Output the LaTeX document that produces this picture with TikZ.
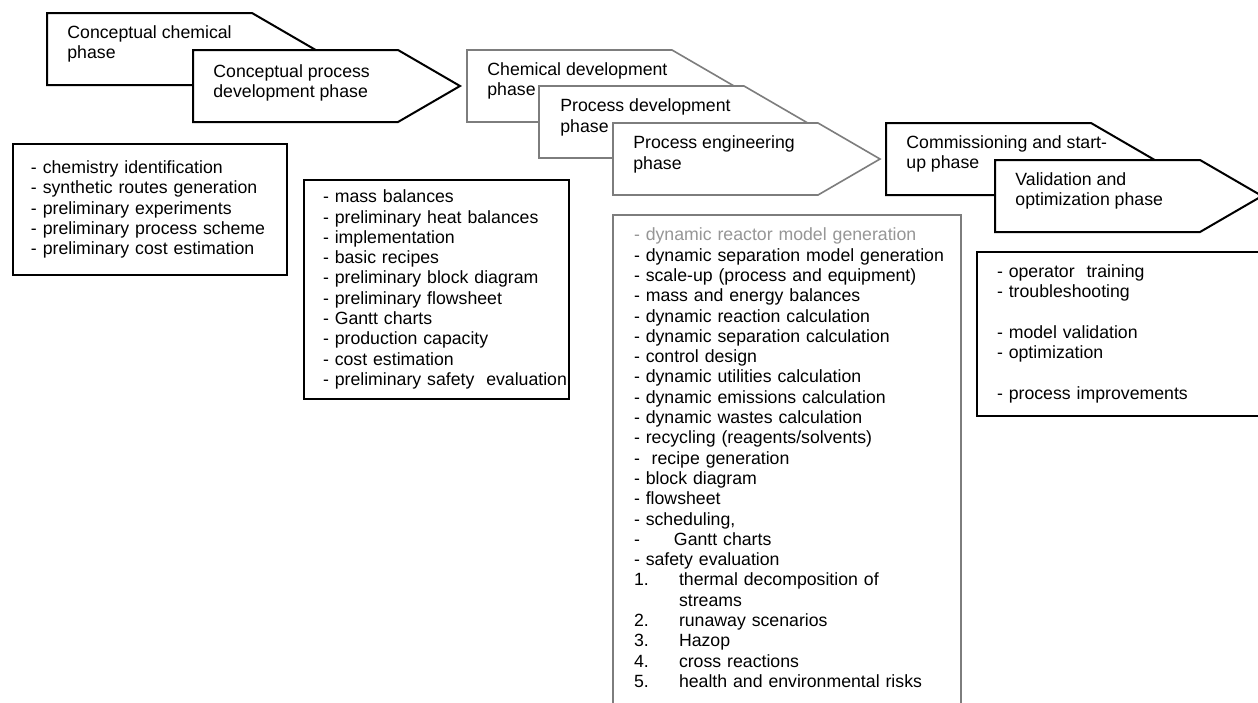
\documentclass[tikz,border=0pt]{standalone}
\usepackage{fontspec}
\setmainfont{Liberation Sans}
\usepackage{tikz}
\usetikzlibrary{calc}
\definecolor{PhaseGray}{RGB}{125,125,125}
\definecolor{NoteGray}{RGB}{150,150,150}
\newcommand{\diagfont}{\fontsize{8.85pt}{10.15pt}\selectfont}
\newcommand{\numitem}[1]{\makebox[22.5pt][l]{#1}}
% phase arrow: style, left x, top y (pixel units)
\newcommand{\phasearrow}[3]{%
  \draw[#1] (#2,#3) -- ++(205,0) -- ++(62,36) -- ++(-62,36) -- ++(-205,0) -- cycle;}
\tikzset{
  phase/.style={draw=black,fill=white,line width=1pt,line join=miter},
  phasegray/.style={phase,draw=PhaseGray,line width=0.8pt},
  phasetext/.style={anchor=base west,align=left,inner sep=0pt,font=\diagfont},
  listbox/.style={draw=black,fill=white,line width=1pt,anchor=north west,
                  align=left,font=\diagfont,inner ysep=4pt},
  listgray/.style={listbox,draw=PhaseGray},
}
\begin{document}
\begin{tikzpicture}[x=0.5pt,y=-0.5pt]
  \clip (0,0) rectangle (1258,702);
  \fill[white] (0,0) rectangle (1258,702);
  % phases (text anchored on the last line)
  \phasearrow{phase}{47}{13}
  \node[phasetext] (p1) at (67,58.5) {Conceptual chemical\\phase};
  \phasearrow{phase}{193}{50}
  \node[phasetext] (p2) at (213,97.5) {Conceptual process\\development phase};
  \phasearrow{phasegray}{467}{50}
  \node[phasetext] (p3) at (487,95.5) {Chemical development\\phase};
  \phasearrow{phasegray}{539}{86}
  \node[phasetext] (p4) at (560,132) {Process development\\phase};
  \phasearrow{phasegray}{613}{123}
  \node[phasetext] (p5) at (633,169) {Process engineering\\phase};
  \phasearrow{phase}{886}{123}
  \node[phasetext] (p6) at (906,168.5) {Commissioning and start-\\up phase};
  \phasearrow{phase}{995}{160}
  \node[phasetext] (p7) at (1015,205.5) {Validation and\\optimization phase};
  % activity lists
  \node[listbox,inner xsep=9pt,text width=119pt,minimum height=65.5pt] (l1) at (12,143)
    {- chemistry identification\\- synthetic routes generation\\- preliminary experiments\\
     - preliminary process scheme\\- preliminary cost estimation};
  \node[listbox,inner xsep=9.5pt,text width=113.5pt,minimum height=109.5pt] (l2) at (303,179)
    {- mass balances\\- preliminary heat balances\\- implementation\\- basic recipes\\
     - preliminary block diagram\\- preliminary flowsheet\\- Gantt charts\\
     - production capacity\\- cost estimation\\\mbox{- preliminary safety~ evaluation}};
  % list runs past the lower edge
  \node[listgray,inner xsep=10.5pt,inner ysep=6.5pt,text width=153pt] (l3) at (612,214)
    {\textcolor{NoteGray}{- dynamic reactor model generation}\\
     \mbox{- dynamic separation model generation}\\- scale-up (process and equipment)\\
     - mass and energy balances\\- dynamic reaction calculation\\
     - dynamic separation calculation\\- control design\\
     - dynamic utilities calculation\\- dynamic emissions calculation\\
     - dynamic wastes calculation\\- recycling (reagents/solvents)\\
     -~ recipe generation\\- block diagram\\- flowsheet\\- scheduling,\\
     \makebox[20pt][l]{-}Gantt charts\\- safety evaluation\\
     \numitem{1.}thermal decomposition of\\\numitem{}streams\\
     \numitem{2.}runaway scenarios\\\numitem{3.}Hazop\\
     \numitem{4.}cross reactions\\\numitem{5.}health and environmental risks\\~};
  \node[listbox,inner xsep=10pt,text width=129.5pt,minimum height=82pt] (l4) at (976,251)
    {- operator~ training\\- troubleshooting\\~\\- model validation\\- optimization\\~\\
     - process improvements};
\end{tikzpicture}
\end{document}
